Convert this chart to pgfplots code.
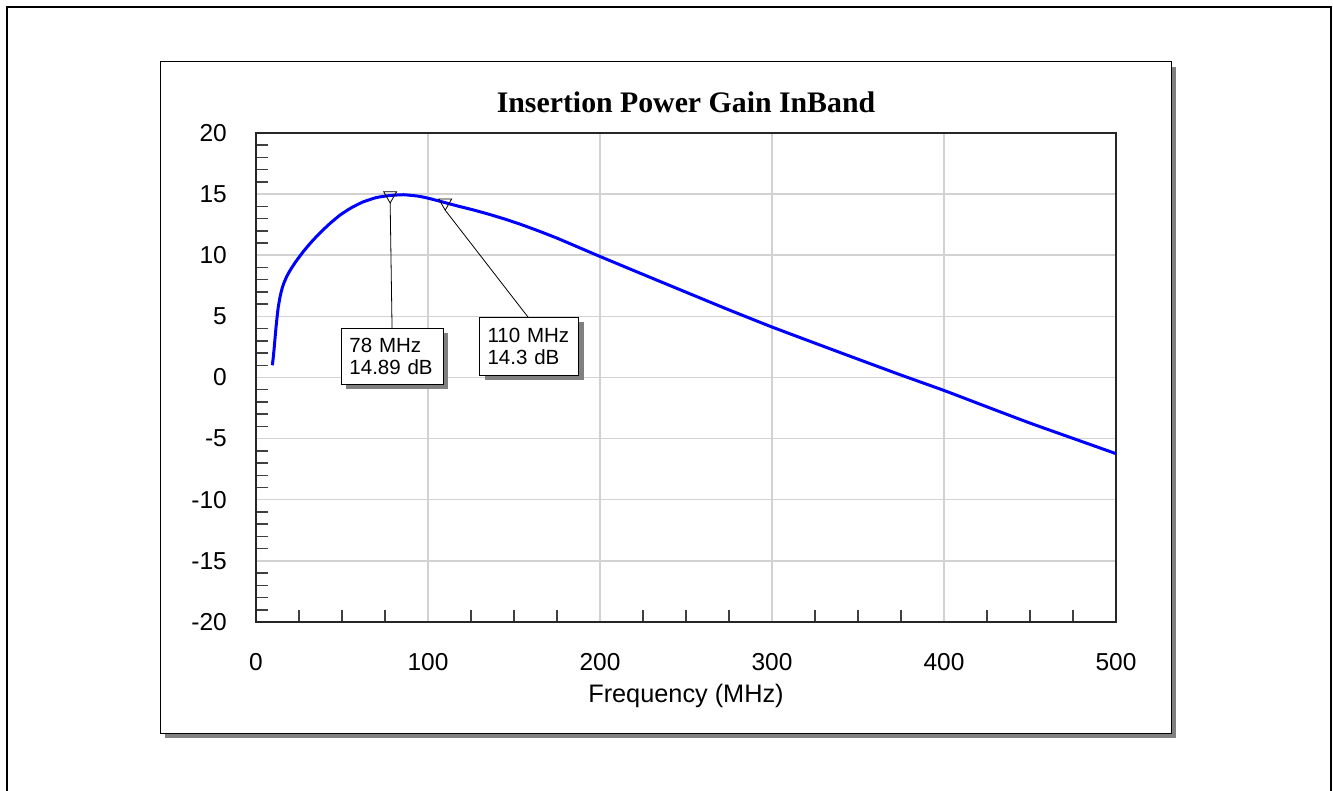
\documentclass[border=0pt]{standalone}
\usepackage{fontspec}
\setmainfont{Liberation Sans}
\newfontfamily\titlefont{Liberation Serif}
\usepackage{pgfplots}
\pgfplotsset{compat=1.18}
\usetikzlibrary{shadows}
\definecolor{gridgray}{RGB}{210,210,210}
\definecolor{shadowgray}{RGB}{128,128,128}
\definecolor{curveblue}{RGB}{0,0,255}

\begin{document}
\begin{tikzpicture}[x=1pt,y=1pt]
\path[use as bounding box] (0pt,0pt) rectangle (1333pt,790pt);
\draw[line width=2pt] (7pt,-20pt) -- (7pt,783pt) -- (1331pt,783pt) -- (1331pt,-20pt);
\fill[shadowgray] (165pt,52pt) rectangle (1176pt,723pt);
\draw[fill=white, line width=1pt] (160pt,57pt) rectangle (1171pt,728pt);
\begin{axis}[
  at={(256pt,168pt)}, anchor=south west,
  scale only axis, width=860pt, height=489pt,
  xmin=0, xmax=500, ymin=-20, ymax=20,
  xtick={0,100,200,300,400,500}, ytick={-20,-15,-10,-5,0,5,10,15,20},
  xticklabels={0,100,200,300,400,500},
  yticklabels={-20,-15,-10,-5,0,5,10,15,20},
  minor xtick={25,50,75,125,150,175,225,250,275,325,350,375,425,450,475},
  minor ytick={-19,-18,-17,-16,-14,-13,-12,-11,-9,-8,-7,-6,-4,-3,-2,-1,1,2,3,4,6,7,8,9,11,12,13,14,16,17,18,19},
  major tick length=0pt, minor tick length=12pt,
  tick align=inside, tick pos=left,
  grid=major, major grid style={gridgray, line width=1.5pt},
  minor tick style={black!75, line width=1.5pt},
  axis line style={black!85, line width=1.5pt},
  ticklabel style={font=\fontsize{24.5}{28}\selectfont},
  yticklabel style={inner sep=0pt, xshift=-29pt},
  xticklabel style={inner sep=0pt, yshift=-31pt},
  xlabel={Frequency (MHz)},
  xlabel style={at={(axis description cs:0.5,0)}, anchor=north, inner sep=0pt, yshift=-62pt, font=\fontsize{25.3}{28}\selectfont},
  title={Insertion Power Gain InBand},
  title style={at={(axis description cs:0.5,1)}, anchor=base, yshift=14pt, inner sep=0pt, font=\titlefont\bfseries\fontsize{29.8}{34}\selectfont},
]
\addplot[curveblue, line width=3pt, line join=round, smooth, tension=0.3] coordinates {
(9.5,1.0) (10,1.6) (10.5,2.3) (11,3.1) (11.5,3.9) (12,4.6) (12.5,5.25) (13,5.8)
(14,6.6) (15,7.2) (16,7.65) (18,8.3) (20,8.8) (23,9.45) (27.5,10.3) (32,11.05)
(37,11.8) (43,12.6) (49,13.3) (55,13.85) (62,14.35) (70,14.72) (78,14.89)
(86,14.95) (95,14.82) (102,14.6) (110,14.3) (118,14.0) (126,13.72) (136,13.33)
(146,12.9) (155,12.47) (165,11.95) (175,11.4) (185,10.8) (200,9.9) (223,8.55)
(250,6.98) (275,5.53) (300,4.13) (328,2.65) (350,1.5) (375,0.2) (400,-1.06)
(425,-2.4) (450,-3.73) (475,-4.98) (500,-6.23)
};
\addplot[only marks, mark=triangle, mark size=7.5pt, mark options={rotate=180, draw=black, fill=none, line width=0.8pt}] coordinates {(78,14.89) (110,14.3)};
\draw[black, line width=0.8pt] ([yshift=-7.5pt]axis cs:78,14.89) -- (axis cs:79.1,4.05);
\draw[black, line width=0.8pt] ([yshift=-7.5pt]axis cs:110,14.3) -- (axis cs:158.1,4.95);
\node[draw, fill=white, line width=1pt, drop shadow={shadow xshift=5pt, shadow yshift=-5pt, fill=shadowgray, opacity=1},
  anchor=north west, minimum width=102pt, minimum height=56pt, text width=86pt, inner xsep=8pt, align=left,
  font=\fontsize{20.5}{22}\selectfont] at (axis cs:49.4,4.05) {78 MHz\\14.89 dB};
\node[draw, fill=white, line width=1pt, drop shadow={shadow xshift=5pt, shadow yshift=-5pt, fill=shadowgray, opacity=1},
  anchor=north west, minimum width=99pt, minimum height=58pt, text width=83pt, inner xsep=8pt, align=left,
  font=\fontsize{20.5}{22}\selectfont] at (axis cs:129.7,4.95) {110 MHz\\14.3 dB};
\end{axis}
\end{tikzpicture}
\end{document}
